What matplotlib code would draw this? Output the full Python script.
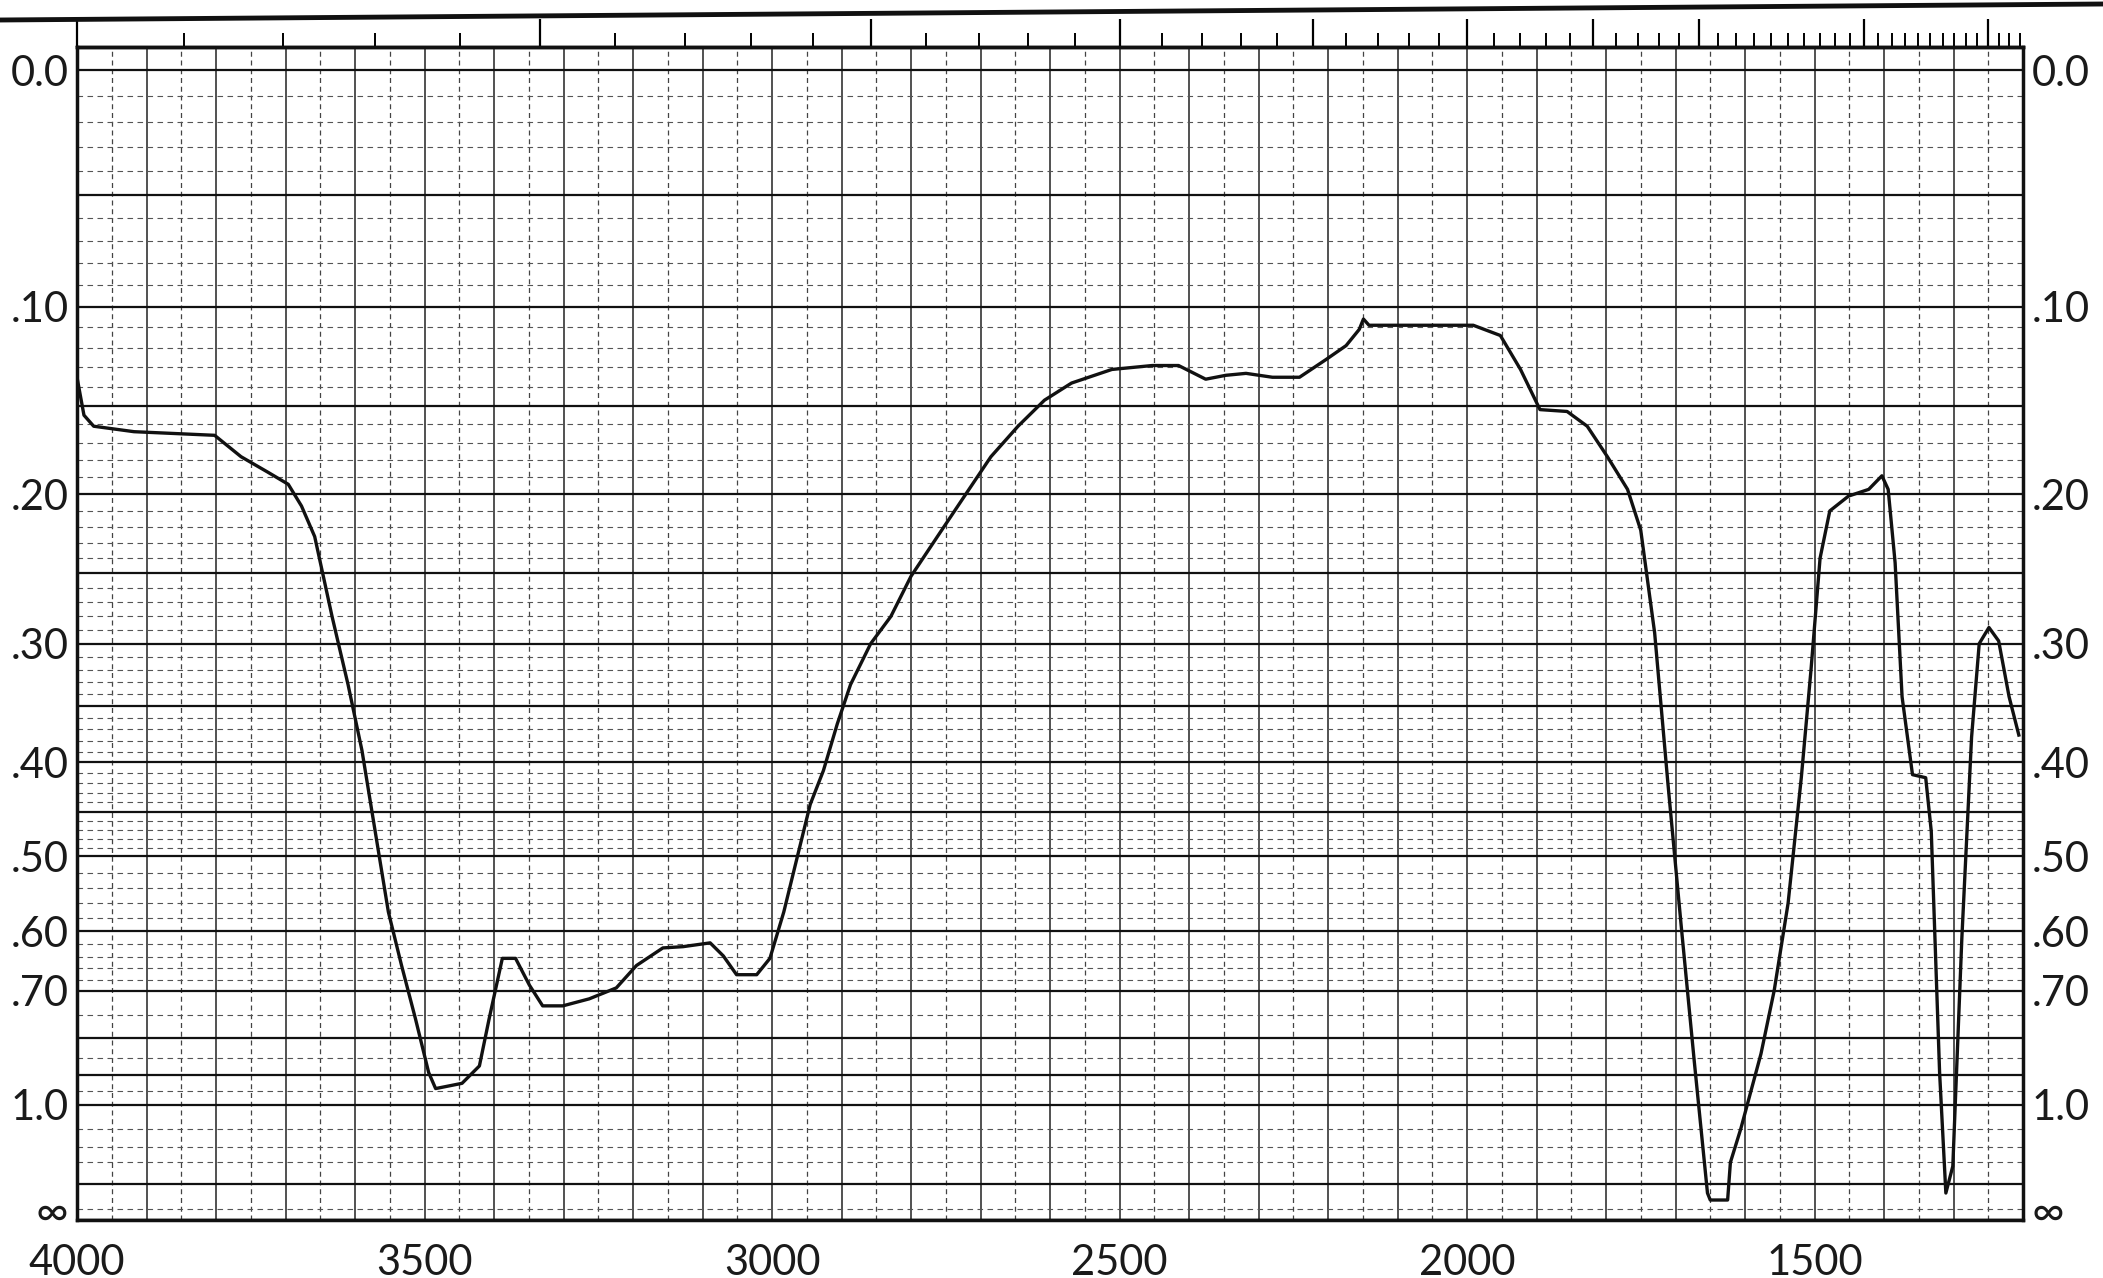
import numpy as np
import matplotlib
matplotlib.use('Agg')
import matplotlib.pyplot as plt
from matplotlib.lines import Line2D
from matplotlib.ticker import MultipleLocator, FixedLocator

# trace: wavenumber (cm-1) and absorbance
wavenumber = [4000, 3990, 3976, 3918, 3860, 3802, 3764, 3725, 3696, 3677, 3658,
              3633, 3610, 3590, 3571, 3552, 3533, 3513, 3494, 3484, 3446, 3421,
              3407, 3388, 3369, 3349, 3330, 3301, 3263, 3224, 3195, 3157, 3128,
              3089, 3070, 3051, 3022, 3003, 2983, 2964, 2945, 2926, 2906, 2887,
              2858, 2829, 2800, 2762, 2723, 2685, 2646, 2608, 2569, 2511, 2453,
              2415, 2376, 2347, 2318, 2280, 2241, 2203, 2174, 2155, 2149, 2141,
              2107, 1991, 1952, 1923, 1895, 1856, 1827, 1798, 1769, 1750, 1730,
              1711, 1692, 1673, 1654, 1650, 1625, 1621, 1606, 1577, 1558, 1538,
              1519, 1505, 1492, 1478, 1451, 1422, 1403, 1394, 1384, 1374, 1359,
              1340, 1332, 1320, 1311, 1301, 1288, 1274, 1263, 1249, 1235, 1220,
              1206]
absorbance = [0.135, 0.155, 0.161, 0.164, 0.165, 0.166, 0.178, 0.187, 0.194, 0.207, 0.226,
              0.280, 0.332, 0.389, 0.471, 0.572, 0.655, 0.757, 0.892, 0.942, 0.925, 0.873,
              0.757, 0.643, 0.643, 0.690, 0.730, 0.730, 0.716, 0.695, 0.655, 0.626, 0.624,
              0.618, 0.639, 0.671, 0.671, 0.643, 0.572, 0.502, 0.442, 0.408, 0.365, 0.332,
              0.300, 0.280, 0.252, 0.226, 0.201, 0.178, 0.161, 0.147, 0.138, 0.131, 0.129,
              0.129, 0.136, 0.134, 0.133, 0.135, 0.135, 0.126, 0.119, 0.111, 0.106, 0.109,
              0.109, 0.109, 0.114, 0.131, 0.152, 0.153, 0.161, 0.178, 0.197, 0.222, 0.292,
              0.420, 0.590, 0.860, 1.63, 1.76, 1.76, 1.30, 1.10, 0.840, 0.700, 0.560,
              0.415, 0.320, 0.240, 0.210, 0.201, 0.197, 0.189, 0.197, 0.243, 0.342, 0.412,
              0.415, 0.471, 0.892, 1.63, 1.33, 0.611, 0.377, 0.300, 0.288, 0.298, 0.342,
              0.375]

x_ticks = [4000, 3500, 3000, 2500, 2000, 1500]
abs_ticks = [0.0, 0.10, 0.20, 0.30, 0.40, 0.50, 0.60, 0.70, 1.0]
abs_labels = ['0.0', '.10', '.20', '.30', '.40', '.50', '.60', '.70', '1.0']
abs_major_grid = [0.0, 0.05, 0.10, 0.15, 0.20, 0.25, 0.30, 0.35, 0.40, 0.45,
                  0.50, 0.60, 0.70, 0.80, 0.90, 1.0, 1.5]
abs_minor_grid = ([a / 100 for a in range(1, 50) if a % 5 != 0]
                  + [0.52, 0.54, 0.56, 0.58, 0.62, 0.64, 0.66, 0.68,
                     0.75, 0.85, 0.95, 1.1, 1.2, 1.3, 2.0])


def to_trans(a):
    return 10 ** (-np.asarray(a, dtype=float))


plt.rcParams['font.family'] = ['Lato', 'DejaVu Sans']

W, H = 2103, 1278
fig = plt.figure(figsize=(W / 100, H / 100), dpi=100)
ax = fig.add_axes([77 / W, 1 - 1220 / H, (2023 - 77) / W, (1220 - 47) / H])

ax.set_xlim(4000, 1200)
ax.set_ylim(0, 1.02)

# chart-paper grid
for wn in range(4000, 1199, -50):
    if wn % 100 == 0:
        ax.axvline(wn, color='#222222', lw=1.1, zorder=1)
    else:
        ax.axvline(wn, color='#444444', lw=0.9, ls=(0, (4, 3)), zorder=1)
for a in abs_major_grid:
    ax.axhline(to_trans(a), color='#111111', lw=1.6, zorder=1)
for a in abs_minor_grid:
    ax.axhline(to_trans(a), color='#555555', lw=0.8, ls=(0, (5, 4)), zorder=1)
ax.axhline(0, color='k', lw=2.5, zorder=1)

# spectrum
ax.plot(wavenumber, to_trans(absorbance), color='#111111', lw=2.4, zorder=3,
        solid_joinstyle='round')

# axes labels
ax.set_xticks(x_ticks)
ax.set_xticklabels([str(t) for t in x_ticks])
ax.set_yticks(list(to_trans(abs_ticks)))
ax.set_yticklabels(abs_labels)
ax.tick_params(axis='both', length=0, labelsize=30, colors='#1a1a1a')
ax.tick_params(axis='x', pad=17)
ax.tick_params(axis='y', pad=6, labelright=True)

# infinity marks on the bottom line (T = 0), both sides
ax.annotate('\u221e', xy=(0, 0), xycoords=('axes fraction', 'data'),
            xytext=(-6, -4), textcoords='offset points', ha='right', va='baseline',
            fontsize=32, color='#1a1a1a')
ax.annotate('\u221e', xy=(1, 0), xycoords=('axes fraction', 'data'),
            xytext=(6, -4), textcoords='offset points', ha='left', va='baseline',
            fontsize=32, color='#1a1a1a')

for sp in ax.spines.values():
    sp.set_linewidth(2.5)
    sp.set_color('#111111')

# micron scale along the top edge
sec = ax.secondary_xaxis('top', functions=(lambda x: 1e4 / x, lambda x: 1e4 / x))
sec.xaxis.set_major_locator(FixedLocator([2.5, 3.0, 3.5, 4.0, 4.5, 5.0, 5.5, 6.0, 7.0, 8.0]))
sec.xaxis.set_minor_locator(MultipleLocator(0.1))
sec.tick_params(which='major', direction='out', length=20, width=1.6, labeltop=False)
sec.tick_params(which='minor', direction='out', length=10, width=1.4)
sec.spines['top'].set_linewidth(2.5)

fig.add_artist(Line2D([0, 1], [1 - 20 / H, 1 - 4 / H], transform=fig.transFigure,
                      color='#111111', lw=3.5))

fig.savefig('out.png', dpi=100, facecolor='white')
